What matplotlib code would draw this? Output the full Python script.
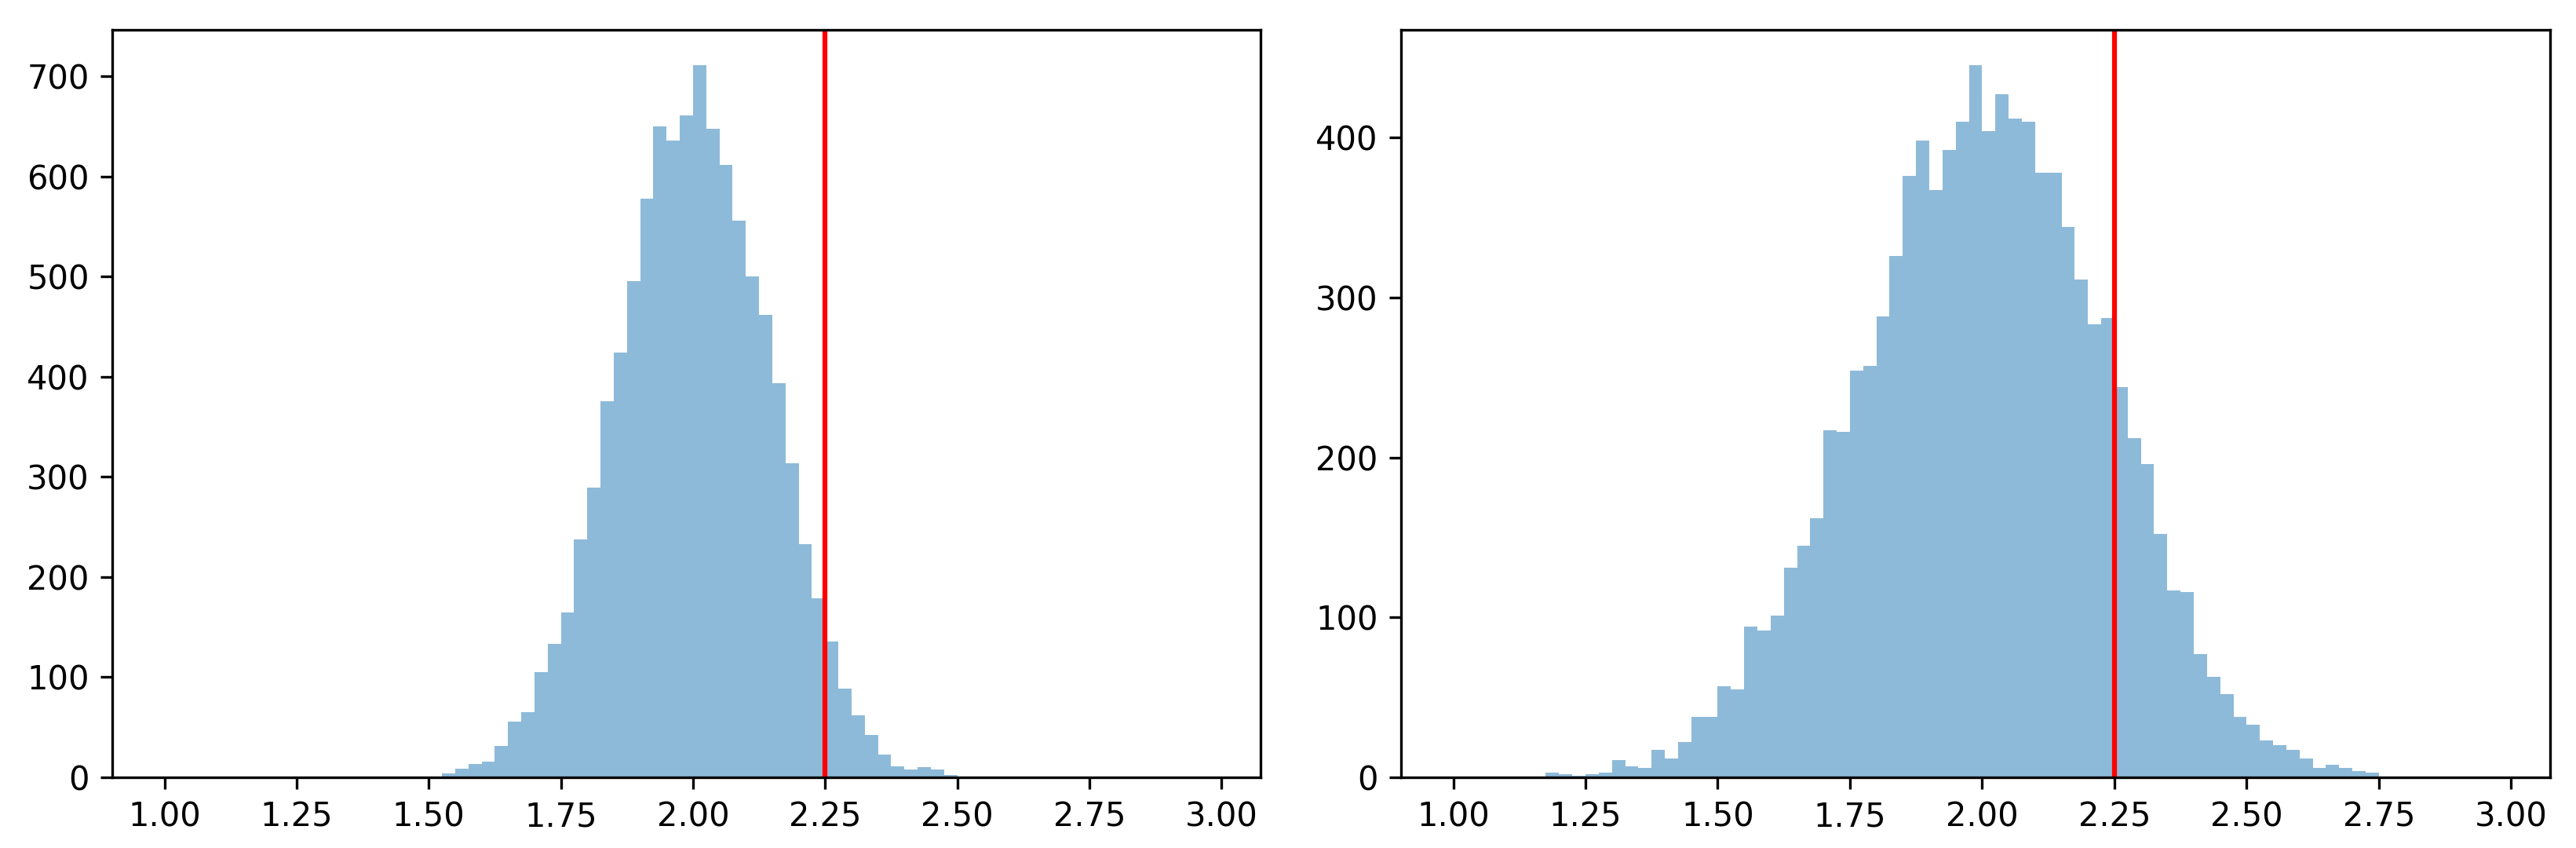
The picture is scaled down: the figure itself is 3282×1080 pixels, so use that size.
import numpy as np
import matplotlib
matplotlib.use("Agg")
import matplotlib.pyplot as plt

# Histogram bin edges: np.arange(1.0, 3.0, 0.025) -> 79 bins from 1.0 to 2.975
bin_start = 1.0
bin_stop = 3.0
bin_width = 0.025

# Left panel counts (bins starting at 1.0, width 0.025)
left_counts = [0] * 20 + [
    1, 4, 9, 13, 16, 31, 56, 65, 105, 133,
    165, 238, 289, 376, 424, 496, 578, 650, 636, 661,
    711, 648, 612, 556, 500, 462, 394, 314, 233, 179,
    136, 89, 62, 42, 23, 11, 8, 10, 8, 2,
    1,
] + [0] * 18

# Right panel counts
right_counts = [0] * 7 + [
    3, 2, 1, 2, 3, 11, 7, 6, 17, 12,
    22, 38, 38, 57, 55, 94, 92, 101, 131, 145,
    162, 217, 216, 254, 257, 288, 326, 376, 398, 367,
    392, 410, 445, 404, 427, 412, 410, 378, 378, 344,
    311, 283, 287, 244, 212, 196, 152, 117, 116, 77,
    63, 52, 38, 33, 23, 20, 17, 12, 6, 8,
    6, 4, 3,
] + [0] * 9

threshold = 2.25
xticks = [1.00, 1.25, 1.50, 1.75, 2.00, 2.25, 2.50, 2.75, 3.00]

edges = np.arange(bin_start, bin_stop, bin_width)

fig = plt.figure(figsize=(3282 / 300, 1080 / 300), dpi=300)
W, H = 3282, 1080
bottom = 1 - 990 / H
top = 1 - 38 / H
ax1 = fig.add_axes([143 / W, bottom, (1606 - 143) / W, top - bottom])
ax2 = fig.add_axes([1785 / W, bottom, (3249 - 1785) / W, top - bottom])

for ax, counts in ((ax1, left_counts), (ax2, right_counts)):
    ax.hist(edges[:-1], bins=edges, weights=counts, alpha=0.5, color="C0")
    ax.axvline(threshold, color="red", linewidth=1.5)
    ax.set_xticks(xticks)
    ax.set_xticklabels([f"{t:.2f}" for t in xticks])
    ax.tick_params(labelsize=10)

fig.savefig("out.png", dpi=300)
